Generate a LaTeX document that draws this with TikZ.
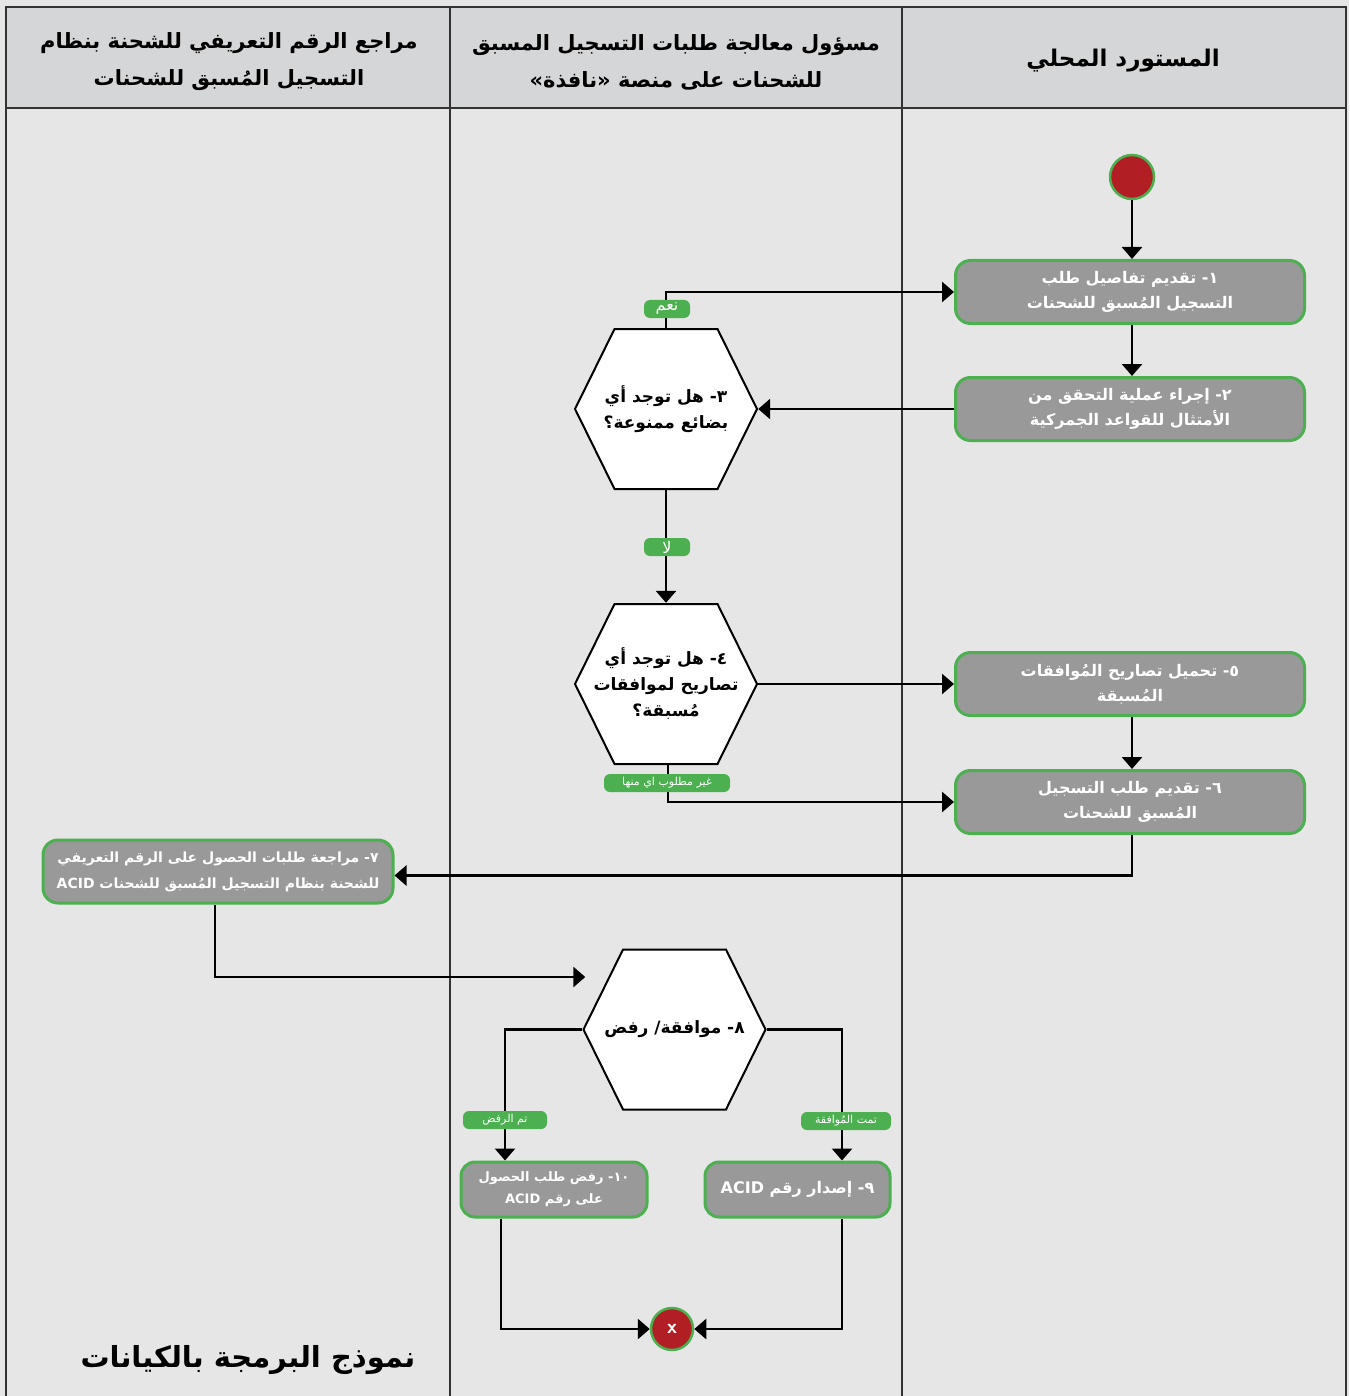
\documentclass[tikz,border=0pt]{standalone}
\usepackage{fontspec}
\usetikzlibrary{arrows.meta,calc}
\TeXXeTstate=1
\newfontfamily\arabicfont[Script=Arabic]{DejaVu Sans}
\newcommand{\arl}[1]{\beginR #1\endR}
\definecolor{bgc}{HTML}{E6E6E6}
\definecolor{hdr}{HTML}{D5D6D8}
\definecolor{boxg}{HTML}{999999}
\definecolor{grn}{HTML}{4CAF50}
\definecolor{redc}{HTML}{B11E23}
\definecolor{linec}{HTML}{333333}
\begin{document}
\begin{tikzpicture}[x=1pt,y=-1pt,
  stepbox/.style={draw=grn, line width=3pt, fill=boxg, rounded corners=15pt, text=white, align=center,
    inner sep=0pt, minimum height=63pt, minimum width=349pt, font={\arabicfont\bfseries\fontsize{16}{25}\selectfont}},
  hexa/.style={minimum width=184pt, minimum height=162pt, inner sep=0pt, align=center, text=black,
    font={\arabicfont\bfseries\fontsize{17}{26}\selectfont},
    path picture={\filldraw[fill=white,draw=black,line width=2pt]
      ([xshift=1pt]path picture bounding box.west) --
      ([xshift=-51.5pt,yshift=-1pt]path picture bounding box.north) --
      ([xshift=51.5pt,yshift=-1pt]path picture bounding box.north) --
      ([xshift=-1pt]path picture bounding box.east) --
      ([xshift=51.5pt,yshift=1pt]path picture bounding box.south) --
      ([xshift=-51.5pt,yshift=1pt]path picture bounding box.south) -- cycle;}},
  pill/.style={fill=grn, text=white, rounded corners=6pt, minimum height=18pt, inner sep=0pt},
  bigpill/.style={pill, minimum width=46pt, font={\arabicfont\fontsize{16}{16}\selectfont}},
  smallpill/.style={pill, font={\arabicfont\fontsize{11}{11}\selectfont}},
  endc/.style={circle, fill=redc, draw=grn, line width=2.5pt, minimum size=44pt, inner sep=0pt},
  hdrtext/.style={align=center, text=black, font={\arabicfont\bfseries\fontsize{21}{37}\selectfont}},
  arr/.style={-{Triangle[width=20pt,length=12pt]}, line width=2.8pt, draw=black}
]
\useasboundingbox (0,0) rectangle (1349,1396);
\fill[bgc] (0,0) rectangle (1349,1396);
\fill[hdr] (6,7) rectangle (1346,108);
\draw[line width=1.5pt, linec] (6,1396) -- (6,7) -- (1346,7) -- (1346,1396);
\draw[line width=1.5pt, linec] (6,108) -- (1346,108);
\draw[line width=1.5pt, linec] (450,7) -- (450,1396);
\draw[line width=1.5pt, linec] (902,7) -- (902,1396);

% headers
\node[hdrtext] (h1) at (229,62) {\arl{مراجع الرقم التعريفي للشحنة بنظام}\\\arl{التسجيل المُسبق للشحنات}};
\node[hdrtext] (h2) at (676,62) {\arl{مسؤول معالجة طلبات التسجيل المسبق}\\\arl{للشحنات على منصة «نافذة»}};
\node[hdrtext, font={\arabicfont\bfseries\fontsize{23}{37}\selectfont}] (h3) at (1123,61) {\arl{المستورد المحلي}};

% nodes
\node[endc] (start) at (1132,177) {};
\node[stepbox] (b1) at (1130,292) {\arl{١- تقديم تفاصيل طلب}\\\arl{التسجيل المُسبق للشحنات}};
\node[stepbox] (b2) at (1130,409) {\arl{٢- إجراء عملية التحقق من}\\\arl{الأمتثال للقواعد الجمركية}};
\node[hexa] (x3) at (666,409) {\arl{٣- هل توجد أي}\\\arl{بضائع ممنوعة؟}};
\node[hexa] (x4) at (666,684) {\arl{٤- هل توجد أي}\\\arl{تصاريح لموافقات}\\\arl{مُسبقة؟}};
\node[stepbox] (b5) at (1130,684) {\arl{٥- تحميل تصاريح المُوافقات}\\\arl{المُسبقة}};
\node[stepbox] (b6) at (1130,802) {\arl{٦- تقديم طلب التسجيل}\\\arl{المُسبق للشحنات}};
\node[stepbox, minimum width=350pt, font={\arabicfont\bfseries\fontsize{14}{26}\selectfont}] (b7) at (218,871.5)
  {\arl{٧- مراجعة طلبات الحصول على الرقم التعريفي}\\\arl{للشحنة بنظام التسجيل المُسبق للشحنات \beginL ACID\endL}};
\node[hexa] (x8) at (674.5,1029.5) {\arl{٨- موافقة/ رفض}};
\node[stepbox, minimum width=185pt, minimum height=55pt, rounded corners=14pt] (b9) at (797.5,1189.5) {\arl{٩- إصدار رقم \beginL ACID\endL}};
\node[stepbox, minimum width=186pt, minimum height=55pt, rounded corners=14pt, font={\arabicfont\bfseries\fontsize{13}{22}\selectfont}] (b10) at (554,1189.5)
  {\arl{\beginL١٠\endL- رفض طلب الحصول}\\\arl{على رقم \beginL ACID\endL}};
\node[endc, minimum size=42pt, text=white, font={\sffamily\bfseries\fontsize{20}{20}\selectfont}] (fin) at (672,1329) {x};

\node[text=black, font={\arabicfont\bfseries\fontsize{29}{29}\selectfont}] (title) at (248,1360) {\arl{نموذج البرمجة بالكيانات}};

% connectors
\coordinate (in8) at ([xshift=3pt,yshift=52.5pt]x8.west);
\draw[arr] (start) -- (start |- b1.north);
\draw[arr] (start |- b1.south) -- (start |- b2.north);
\draw[arr] (b2.west) -- (x3.east);
\draw[arr] (x3.north) |- (b1.west);
\draw[arr] (x3.south) -- (x4.north);
\draw[arr] (x4.east) -- (b5.west);
\draw[arr] (start |- b5.south) -- (start |- b6.north);
\draw[arr] ([xshift=2pt]x4.south) |- (b6.west);
\draw[arr] (start |- b6.south) |- ([yshift=-4pt]b7.east);
\draw[arr] ([xshift=-3pt]b7.south) |- (in8);
\draw[arr] (x8.west) -| ([xshift=-49pt]b10.north);
\draw[arr] (x8.east) -| ([xshift=44.5pt]b9.north);
\draw[arr] ([xshift=-53pt]b10.south) |- (fin.west);
\draw[arr] ([xshift=44.5pt]b9.south) |- (fin.east);

% labels
\node[bigpill] (lyes) at (667,309) {\arl{نعم}};
\node[bigpill] (lno) at (667,547) {\arl{لا}};
\node[smallpill, minimum width=126pt] (lnone) at (667,783) {\arl{غير مطلوب اي منها}};
\node[smallpill, minimum width=84pt] (lrej) at (505,1120) {\arl{تم الرفض}};
\node[smallpill, minimum width=90pt] (lacc) at (846,1121) {\arl{تمت المُوافقة}};
\end{tikzpicture}
\end{document}
